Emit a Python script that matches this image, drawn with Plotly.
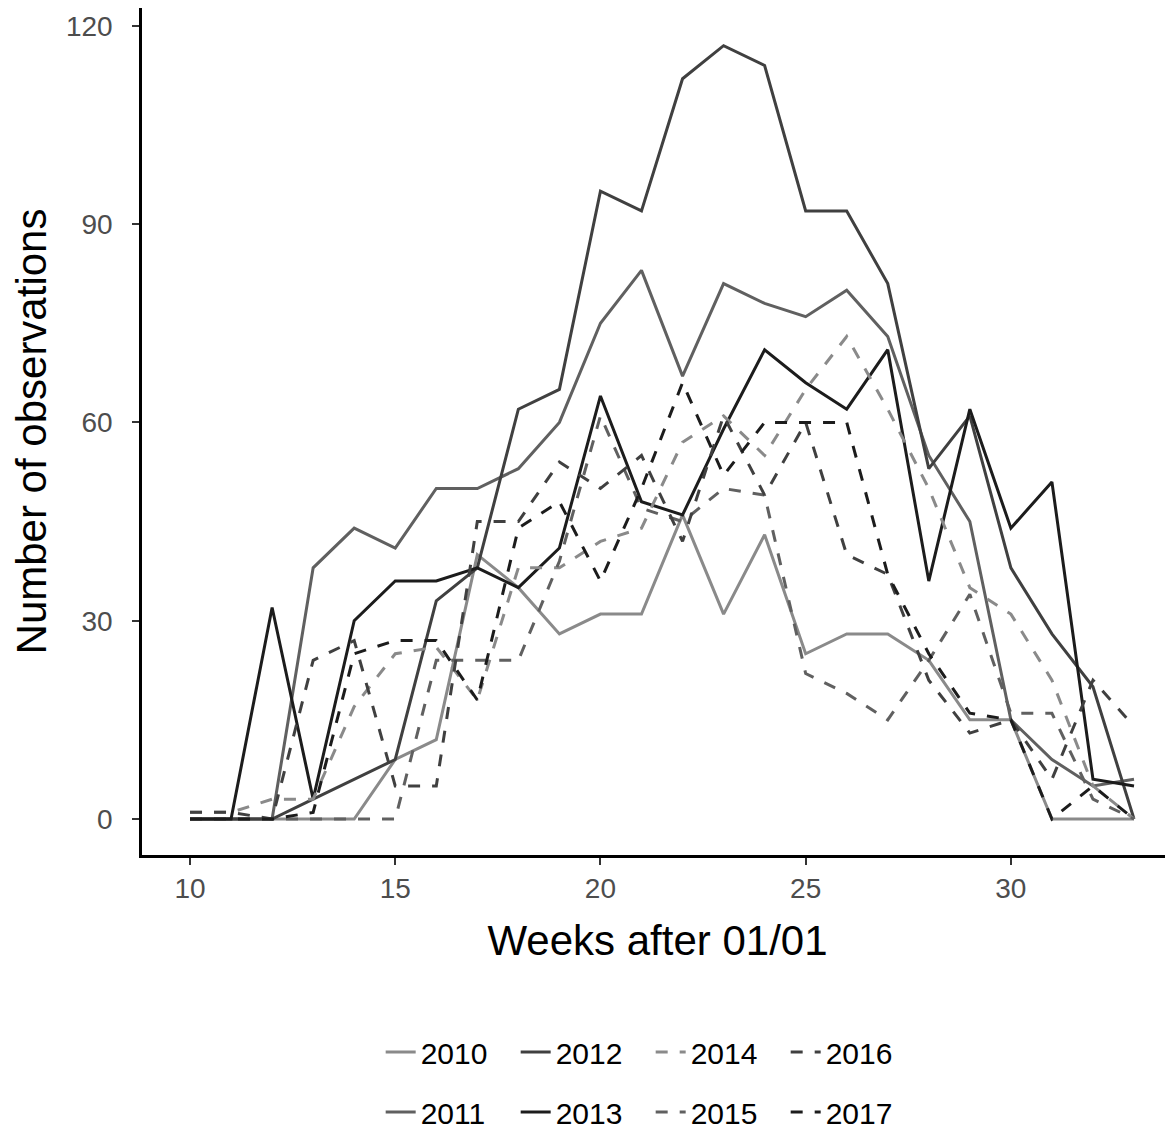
import plotly.graph_objects as go

weeks = list(range(10, 34))

obs_2010 = [0, 0, 0, 0, 0, 9, 12, 40, 35, 28, 31, 31, 46, 31, 43, 25, 28, 28, 24, 15, 15, 0, 0, 0]
obs_2011 = [0, 0, 0, 38, 44, 41, 50, 50, 53, 60, 75, 83, 67, 81, 78, 76, 80, 73, 55, 45, 15, 9, 5, 6]
obs_2012 = [0, 0, 0, 3, 6, 9, 33, 38, 62, 65, 95, 92, 112, 117, 114, 92, 92, 81, 53, 61, 38, 28, 20, 0]
obs_2013 = [0, 0, 32, 3, 30, 36, 36, 38, 35, 41, 64, 48, 46, 59, 71, 66, 62, 71, 36, 62, 44, 51, 6, 5]
obs_2014 = [1, 1, 3, 3, 17, 25, 26, 18, 38, 38, 42, 44, 57, 61, 55, 65, 73, 62, 50, 35, 31, 21, 5, 0]
obs_2015 = [0, 0, 0, 0, 0, 0, 24, 24, 24, 39, 61, 47, 45, 50, 49, 22, 19, 15, 24, 34, 16, 16, 3, 0]
obs_2016 = [1, 1, 0, 24, 27, 5, 5, 45, 45, 54, 50, 55, 42, 61, 49, 60, 40, 37, 21, 13, 15, 6, 21, 14]
obs_2017 = [0, 0, 0, 1, 25, 27, 27, 18, 44, 48, 36, 50, 66, 52, 60, 60, 60, 37, 25, 16, 15, 0, 5, 0]

years = ["2010", "2011", "2012", "2013", "2014", "2015", "2016", "2017"]
series = [obs_2010, obs_2011, obs_2012, obs_2013, obs_2014, obs_2015, obs_2016, obs_2017]
greys = ["#8a8a8a", "#606060", "#404040", "#1c1c1c"]

fig = go.Figure()
# legend rows: first row 2010 2012 2014 2016, second row 2011 2013 2015 2017
for i, (yr, vals) in enumerate(zip(years, series)):
    fig.add_trace(
        go.Scatter(
            x=weeks,
            y=vals,
            mode="lines",
            name=yr,
            line=dict(
                color=greys[i % 4],
                width=3,
                dash="solid" if i < 4 else "12px,12px",
            ),
            legend="legend" if i % 2 == 0 else "legend2",
        )
    )

axis_style = dict(
    showgrid=False,
    zeroline=False,
    showline=True,
    linecolor="black",
    linewidth=2.5,
    ticks="outside",
    ticklen=7,
    tickwidth=2,
    tickcolor="#333333",
    tickfont=dict(size=28, color="#4d4d4d"),
    automargin=False,
)

# page body has an 8px margin, so the figure is 8px smaller than the window
fig.update_layout(
    width=1165,
    height=1127,
    margin=dict(l=134, r=0, t=0, b=280),
    plot_bgcolor="white",
    paper_bgcolor="white",
    font=dict(family="Arial, Liberation Sans, sans-serif", size=22, color="#000000"),
    xaxis=dict(
        range=[8.83, 33.95],
        tickvals=[10, 15, 20, 25, 30],
        title=dict(text="Weeks after 01/01", font=dict(size=42, color="black"), standoff=23),
        **axis_style,
    ),
    yaxis=dict(
        range=[-5.45, 122.7],
        tickvals=[0, 30, 60, 90, 120],
        ticklabelstandoff=14,
        title=dict(text="Number of observations", font=dict(size=42, color="black"), standoff=10),
        **axis_style,
    ),
    legend=dict(
        orientation="h", xref="container", yref="container",
        x=0.3199, y=0.0736, xanchor="left", yanchor="middle",
        entrywidth=90, font=dict(size=30, color="black"), bgcolor="rgba(0,0,0,0)",
    ),
    legend2=dict(
        orientation="h", xref="container", yref="container",
        x=0.3199, y=0.0203, xanchor="left", yanchor="middle",
        entrywidth=90, font=dict(size=30, color="black"), bgcolor="rgba(0,0,0,0)",
    ),
)

fig.write_html("out.html")
